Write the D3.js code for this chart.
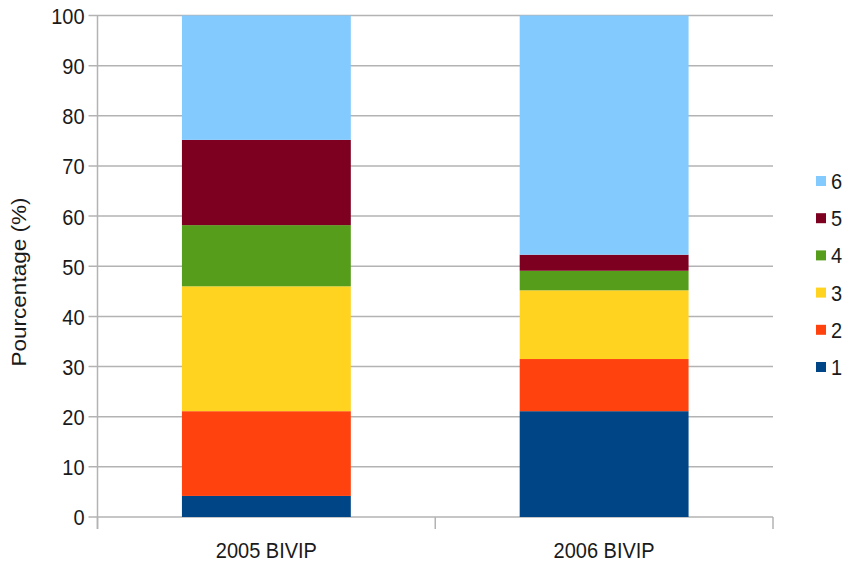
<!DOCTYPE html>
<html>
<head>
<meta charset="utf-8">
<script src="https://cdn.jsdelivr.net/npm/d3@7"></script>
<style>
  body { margin: 0; background: #fff; }
  text { font-family: "Liberation Sans", Arial, sans-serif; fill: #1a1a1a; }
</style>
</head>
<body>
<svg id="chart"></svg>
<script>

var categories = ["2005 BIVIP", "2006 BIVIP"]
var seriesNames = ["1", "2", "3", "4", "5", "6"]
var values2005 = [4.2, 16.9, 24.9, 12.2, 17.0, 24.8]
var values2006 = [21.1, 10.4, 13.7, 3.9, 3.2, 47.7]
var colors = ["#004586", "#ff420e", "#ffd320", "#579d1c", "#7e0021", "#83caff"]
var yTicks = [0, 10, 20, 30, 40, 50, 60, 70, 80, 90, 100]

var width = 843, height = 562
var plotLeft = 97.5, plotRight = 773, plotTop = 15.5, plotBottom = 517
var textScale = "scale(1,1.1)"

var svg = d3.select("#chart")
            .attr("width", width)
            .attr("height", height)

// build rows for the stack
var rows = categories.map(function(c, i){
    var vals = i == 0 ? values2005 : values2006
    var row = {cat: c}
    seriesNames.forEach(function(s, j){ row[s] = vals[j] })
    return row
})

var stack = d3.stack().keys(seriesNames)
var layers = stack(rows)

var xScale = d3.scaleBand()
    .domain(categories)
    .range([plotLeft, plotRight])

var yScale = d3.scaleLinear()
    .domain([0, 100])
    .range([plotBottom, plotTop])

// gridlines
svg.append("g")
    .selectAll("line")
    .data(yTicks)
    .enter().append("line")
    .attr("x1", plotLeft - 9)
    .attr("x2", plotRight)
    .attr("y1", function(d){ return yScale(d) })
    .attr("y2", function(d){ return yScale(d) })
    .attr("stroke", "#b3b3b3")
    .attr("stroke-width", 1.5)

// y axis
var y_axis = d3.axisLeft()
    .scale(yScale)
    .tickValues(yTicks)
    .tickSize(0)
    .tickPadding(13)

var yg = svg.append("g")
    .attr("transform", "translate(" + plotLeft + ",0)")
    .call(y_axis)
yg.select(".domain").remove()
yg.selectAll("text")
    .attr("font-size", 20)
    .attr("font-family", "Liberation Sans, Arial, sans-serif")
    .attr("fill", "#1a1a1a")
    .attr("dy", "0.36em")
    .attr("transform", textScale)

svg.append("line")
    .attr("x1", plotLeft).attr("x2", plotLeft)
    .attr("y1", plotTop).attr("y2", plotBottom + 12)
    .attr("stroke", "#b3b3b3")
    .attr("stroke-width", 1.5)

// x axis
var xBounds = [plotLeft, xScale(categories[1]), plotRight]
svg.append("g")
    .selectAll("line")
    .data(xBounds)
    .enter().append("line")
    .attr("x1", function(d){ return d })
    .attr("x2", function(d){ return d })
    .attr("y1", plotBottom)
    .attr("y2", plotBottom + 12)
    .attr("stroke", "#b3b3b3")
    .attr("stroke-width", 1.5)

svg.append("g")
    .selectAll("g")
    .data(categories)
    .enter().append("g")
    .attr("transform", function(d){ return "translate(" + (xScale(d) + xScale.bandwidth() / 2) + ",558)" })
    .append("text")
    .attr("text-anchor", "middle")
    .attr("font-size", 20)
    .attr("transform", textScale)
    .text(function(d){ return d })

// bars
var barW = xScale.bandwidth() * 0.5
svg.append("g")
    .selectAll("g")
    .data(layers)
    .enter().append("g")
    .attr("fill", function(d, i){ return colors[i] })
    .selectAll("rect")
    .data(function(d){ return d })
    .enter().append("rect")
    .attr("x", function(d){ return xScale(d.data.cat) + (xScale.bandwidth() - barW) / 2 })
    .attr("width", barW)
    .attr("y", function(d){ return yScale(d[1]) })
    .attr("height", function(d){ return yScale(d[0]) - yScale(d[1]) })

// y title
svg.append("g")
    .attr("transform", "translate(26,282) " + textScale)
    .append("text")
    .attr("transform", "rotate(-90)")
    .attr("text-anchor", "middle")
    .attr("font-size", 20.5)
    .text("Pourcentage (%)")

// legend
var legendOrder = seriesNames.slice().reverse()
var lg = svg.append("g")
    .selectAll("g")
    .data(legendOrder)
    .enter().append("g")
    .attr("transform", function(d, i){ return "translate(816," + (181 + i * 37.2) + ")" })

lg.append("rect")
    .attr("x", 0)
    .attr("y", -5)
    .attr("width", 10)
    .attr("height", 10)
    .attr("fill", function(d){ return colors[seriesNames.indexOf(d)] })

lg.append("g")
    .attr("transform", "translate(15,0) " + textScale)
    .append("text")
    .attr("dy", "0.36em")
    .attr("font-size", 20)
    .text(function(d){ return d })

</script>
</body>
</html>
